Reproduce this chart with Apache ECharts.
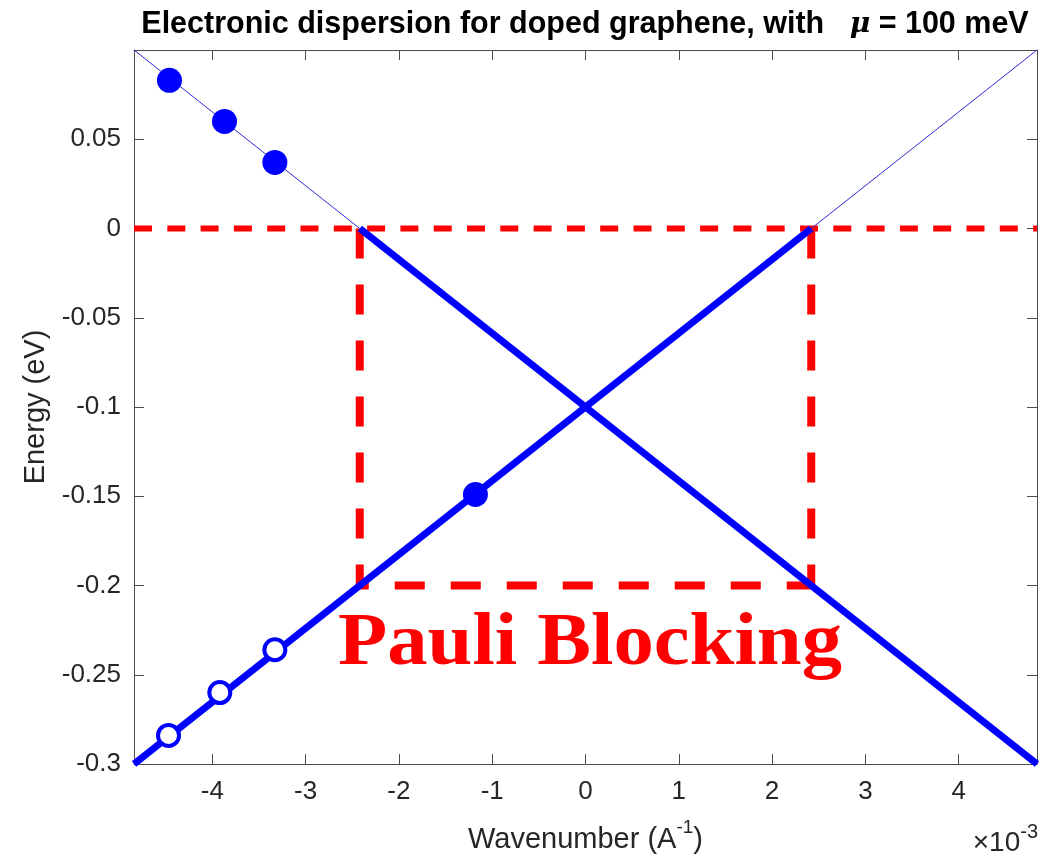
<!DOCTYPE html>
<html>
<head>
<meta charset="utf-8">
<style>
  html, body { margin: 0; padding: 0; background: #ffffff; }
  #chart { width: 1040px; height: 860px; }
</style>
<script src="https://cdn.jsdelivr.net/npm/echarts@6/dist/echarts.min.js"></script>
</head>
<body>
<div id="chart"></div>
<script>
// Wavenumber axis (units of 1e-3 A^-1) and energy axis (eV)
const kRange = [-4.84, 4.84];
const eRange = [-0.3, 0.1];
const kTicks = [-4, -3, -2, -1, 0, 1, 2, 3, 4];
const eTicks = [-0.3, -0.25, -0.2, -0.15, -0.1, -0.05, 0, 0.05];

// Dirac cone of the doped sheet: empty parts above the Fermi level are thin,
// occupied parts below it are thick
const bandUpperLeft = [[-4.84, 0.1], [-2.42, 0]];
const bandFalling = [[-2.42, 0], [4.84, -0.3]];
const bandRising = [[-4.84, -0.3], [2.42, 0]];
const bandUpperRight = [[2.42, 0], [4.84, 0.1]];

// Fermi level and the blocked-transition window
const fermiLevel = [[-4.84, 0], [4.84, 0]];
const blockedWindow = [[-2.42, 0], [-2.42, -0.2], [2.42, -0.2]];
const blockedWindowRight = [[2.42, 0], [2.42, -0.2]];

// Electron states: occupied (filled) and empty (open)
const occupiedStates = [[-4.46, 0.083], [-3.87, 0.06], [-3.33, 0.037], [-1.18, -0.149]];
const emptyStates = [[-4.47, -0.284], [-3.92, -0.26], [-3.33, -0.236]];

const BLUE = '#0000ff';
const RED = '#ff0000';
const AXIS = '#4d4d4d';
const TEXT = '#262626';
const SANS = '"Liberation Sans", Arial, Helvetica, sans-serif';

const chart = echarts.init(document.getElementById('chart'), null, { renderer: 'canvas' });

const tickLabel = v => (v === 0 ? '0' : String(v));

const baseX = {
  type: 'value', min: kRange[0], max: kRange[1],
  axisLine: { show: true, onZero: false, lineStyle: { color: AXIS, width: 1 } },
  splitLine: { show: false },
  axisTick: { show: true, inside: true, length: 10, customValues: kTicks, lineStyle: { color: AXIS } }
};
const baseY = {
  type: 'value', min: eRange[0], max: eRange[1],
  axisLine: { show: true, onZero: false, lineStyle: { color: AXIS, width: 1 } },
  splitLine: { show: false },
  axisTick: { show: true, inside: true, length: 10, customValues: eTicks, lineStyle: { color: AXIS } }
};

function seg(data, width, color, dash, z) {
  return {
    type: 'line', data: data, symbol: 'none', silent: true, z: z,
    lineStyle: { color: color, width: width, type: dash || 'solid', cap: 'butt', opacity: 1 }
  };
}

const option = {
  animation: false,
  backgroundColor: '#ffffff',
  title: {
    text: '{b|Electronic dispersion for doped graphene, with   }{m|μ}{b| = 100 meV}',
    left: 585, top: 9, textAlign: 'center', padding: 0,
    textStyle: {
      rich: {
        b: { fontFamily: SANS, fontWeight: 'bold', fontSize: 30.5, color: '#000000' },
        m: { fontFamily: '"DejaVu Serif", "Liberation Serif", serif', fontStyle: 'italic', fontWeight: 'bold', fontSize: 28, color: '#000000' }
      }
    }
  },
  grid: { left: 134, right: 3, top: 50, bottom: 96, containLabel: false },
  xAxis: [
    Object.assign({}, baseX, {
      position: 'bottom',
      name: '{n|Wavenumber (A}{s|-1}{n|)}',
      nameLocation: 'middle', nameGap: 54,
      nameTextStyle: {
        rich: {
          n: { fontFamily: SANS, fontSize: 29, color: TEXT, lineHeight: 44 },
          s: { fontFamily: SANS, fontSize: 19, color: TEXT, lineHeight: 19, verticalAlign: 'top' }
        }
      },
      axisLabel: { show: true, customValues: kTicks, margin: 15, formatter: tickLabel,
                   fontFamily: SANS, fontSize: 26, color: TEXT }
    }),
    Object.assign({}, baseX, { position: 'top', axisLabel: { show: false } })
  ],
  yAxis: [
    Object.assign({}, baseY, {
      position: 'left',
      name: 'Energy (eV)', nameLocation: 'middle', nameGap: 84,
      nameTextStyle: { fontFamily: SANS, fontSize: 29, color: TEXT },
      axisLabel: { show: true, customValues: eTicks, margin: 13, formatter: tickLabel,
                   fontFamily: SANS, fontSize: 26, color: TEXT }
    }),
    Object.assign({}, baseY, { position: 'right', axisLabel: { show: false } })
  ],
  series: [
    seg(fermiLevel, 6, RED, [18, 15.3], 2),
    seg(blockedWindow, 8, RED, [30, 26], 2),
    seg(blockedWindowRight, 8, RED, [30, 26], 2),
    seg(bandUpperLeft, 1, '#2a2ad6', null, 3),
    seg(bandUpperRight, 1, '#2a2ad6', null, 3),
    seg(bandFalling, 7, BLUE, null, 3),
    seg(bandRising, 7, BLUE, null, 3),
    {
      type: 'scatter', data: occupiedStates, symbol: 'circle', symbolSize: 25, z: 4, silent: true,
      itemStyle: { color: BLUE, opacity: 1 }
    },
    {
      type: 'scatter', data: emptyStates, symbol: 'circle', symbolSize: 21, z: 4, silent: true,
      itemStyle: { color: '#ffffff', borderColor: BLUE, borderWidth: 4, opacity: 1 }
    }
  ],
  graphic: [
    {
      type: 'text', x: 590, y: 645, scaleX: 1.075, z: 10, silent: true,
      style: {
        text: 'Pauli Blocking', fill: RED, align: 'center', verticalAlign: 'middle',
        font: 'bold 75px "Liberation Serif", "Times New Roman", serif'
      }
    },
    {
      type: 'text', x: 1038, y: 843, z: 10, silent: true,
      style: {
        text: '{a|×10}{s|-3}', align: 'right', verticalAlign: 'middle',
        rich: {
          a: { fontFamily: SANS, fontSize: 28, fill: TEXT, lineHeight: 42 },
          s: { fontFamily: SANS, fontSize: 20, fill: TEXT, lineHeight: 20, verticalAlign: 'top' }
        }
      }
    }
  ]
};

chart.setOption(option);
</script>
</body>
</html>
